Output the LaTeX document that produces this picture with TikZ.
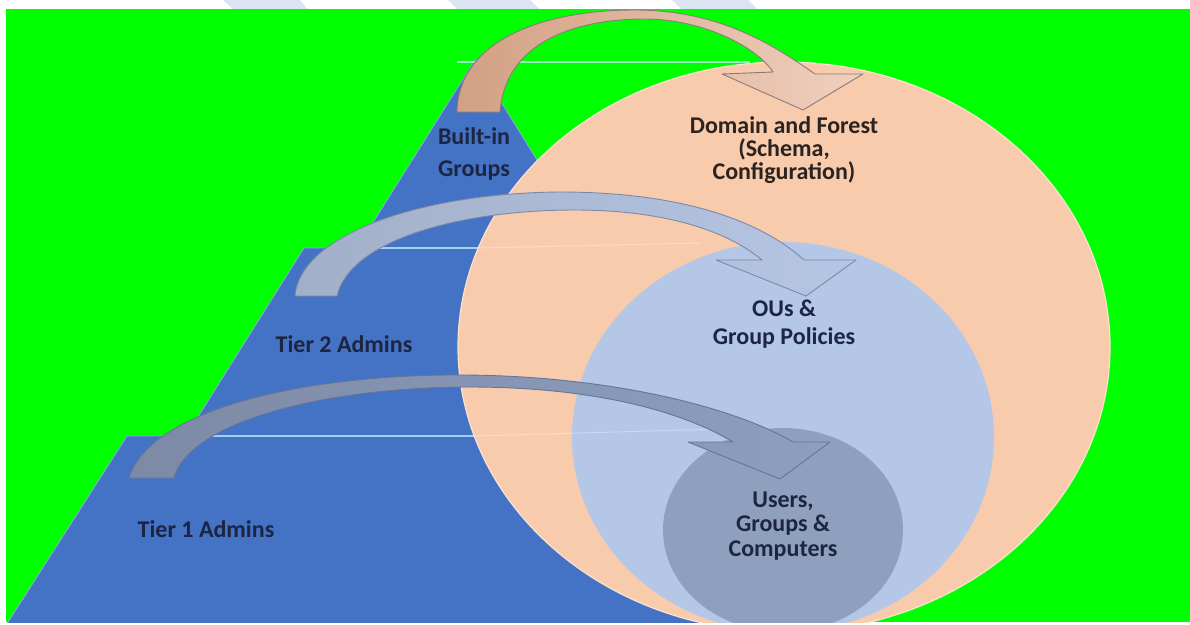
\documentclass[tikz,border=0pt]{standalone}
\usepackage{fontspec}
\setmainfont{Carlito}

\definecolor{bggreen}{HTML}{00FF00}
\definecolor{tierblue}{HTML}{4472C4}
\definecolor{forestpeach}{HTML}{F8CBAD}
\definecolor{oublue}{HTML}{B4C7E7}
\definecolor{usergray}{HTML}{8FA0BE}
\definecolor{marknavy}{HTML}{1C2541}
\definecolor{markbrown}{HTML}{2B2320}
\definecolor{stripeblue}{HTML}{DCE4F4}
\definecolor{ledgecyan}{HTML}{C8F0FF}
\definecolor{tanedge}{HTML}{8A7B78}
\definecolor{tanleft}{HTML}{D2A083}
\definecolor{tanright}{HTML}{F0D0BE}
\definecolor{ouedge}{HTML}{7C89A6}
\definecolor{ouleft}{HTML}{A2AFC8}
\definecolor{ouright}{HTML}{B5C6E4}
\definecolor{useredge}{HTML}{65759A}
\definecolor{userleft}{HTML}{7D8AA5}
\definecolor{userright}{HTML}{8D9FBF}

\newcommand{\tierfont}{\bfseries\fontsize{24}{23}\selectfont}

\tikzset{
	tier label/.style={
		font=\tierfont,
		text=marknavy,
		inner sep=0pt,
	},
	zone label/.style={
		font=\tierfont,
		text=marknavy,
		inner sep=0pt,
		align=center,
	},
	ledge/.style={draw=ledgecyan, line width=1.4pt, opacity=0.75},
	faint ledge/.style={draw=white, line width=1pt, opacity=0.3},
	bent arrow/.style n args={3}{
		draw=#1, line width=0.9pt, line join=round,
		left color=#2, right color=#3,
	}
}

\begin{document}
\begin{tikzpicture}[x=1pt, y=-1pt]
	\useasboundingbox (0,0) rectangle (1190,624);
	\fill[white] (0,0) rectangle (1190,624);
	\fill[stripeblue] (223,0) -- (300,0) -- (310,12) -- (236,12) -- cycle;
	\fill[stripeblue] (448,0) -- (530,0) -- (542,12) -- (460,12) -- cycle;
	\fill[stripeblue] (672,0) -- (748,0) -- (760,12) -- (684,12) -- cycle;
	\fill[bggreen] (6,9) rectangle (1190,622);
	\clip (6,9) rectangle (1190,622);
	
	\filldraw[fill=tierblue, draw=tierblue!60!white, line width=0.8pt] (475,60) -- (828,630) -- (3,630) -- (127,436) -- (186,436) -- (304,248) -- (357,248) -- cycle;
	
	\draw[ledge] (457,62) -- (750,62);
	\draw[ledge] (370,248) -- (700,248);
	\draw[ledge] (204,436) -- (720,436);
	
	\filldraw[fill=forestpeach, draw=forestpeach!55!white, line width=1.2pt] (784,347) ellipse [x radius=326pt, y radius=285pt];
	\fill[oublue] (783,437) ellipse [x radius=211pt, y radius=195pt];
	\fill[usergray] (783,530) ellipse [x radius=120pt, y radius=102pt];
	
	\draw[faint ledge] (478,248) -- (700,243);
	\draw[faint ledge] (474,436) -- (720,429);
	
	\path[bent arrow={tanedge}{tanleft}{tanright}] (457,112) .. controls (458,42) and (540,10) .. (635,10) .. controls (720,10) and (775,46) .. (815,74) -- (863,74) -- (803,110) -- (722,74) -- (773,72) .. controls (755,45) and (700,19) .. (645,19) .. controls (570,19) and (505,45) .. (500,112) -- cycle;
	\path[bent arrow={ouedge}{ouleft}{ouright}] (295,296) .. controls (300,235) and (420,193) .. (560,192) .. controls (680,192) and (760,220) .. (804,260) -- (856,260) -- (806,296) -- (716,260) -- (762,260) .. controls (720,225) and (650,210) .. (575,210) .. controls (460,210) and (350,240) .. (337,296) -- cycle;
	\path[bent arrow={useredge}{userleft}{userright}] (129,478) .. controls (150,410) and (300,376) .. (450,375) .. controls (600,374) and (730,405) .. (793,442) -- (830,442) -- (780,479) -- (688,442) -- (733,442) .. controls (680,410) and (590,387) .. (470,387) .. controls (330,387) and (190,420) .. (174,478) -- cycle;
	
	\node[tier label](BI) at (474,136){Built-in};
	\node[tier label, below of=BI, node distance=35pt](GR){Groups};
	\node[tier label](T2) at (344,344){Tier 2 Admins};
	\node[tier label](T1) at (206,529){Tier 1 Admins};
	
	\node[zone label, text=markbrown](DF) at (784,150){Domain and Forest\\(Schema,\\Configuration)};
	\node[zone label](OU) at (784,308){OUs \&};
	\node[zone label, below of=OU, node distance=30pt](GP){Group Policies};
	\node[zone label, font=\bfseries\fontsize{24}{24.5}\selectfont](UG) at (783,526){Users,\\Groups \&\\Computers};
\end{tikzpicture}
\end{document}
